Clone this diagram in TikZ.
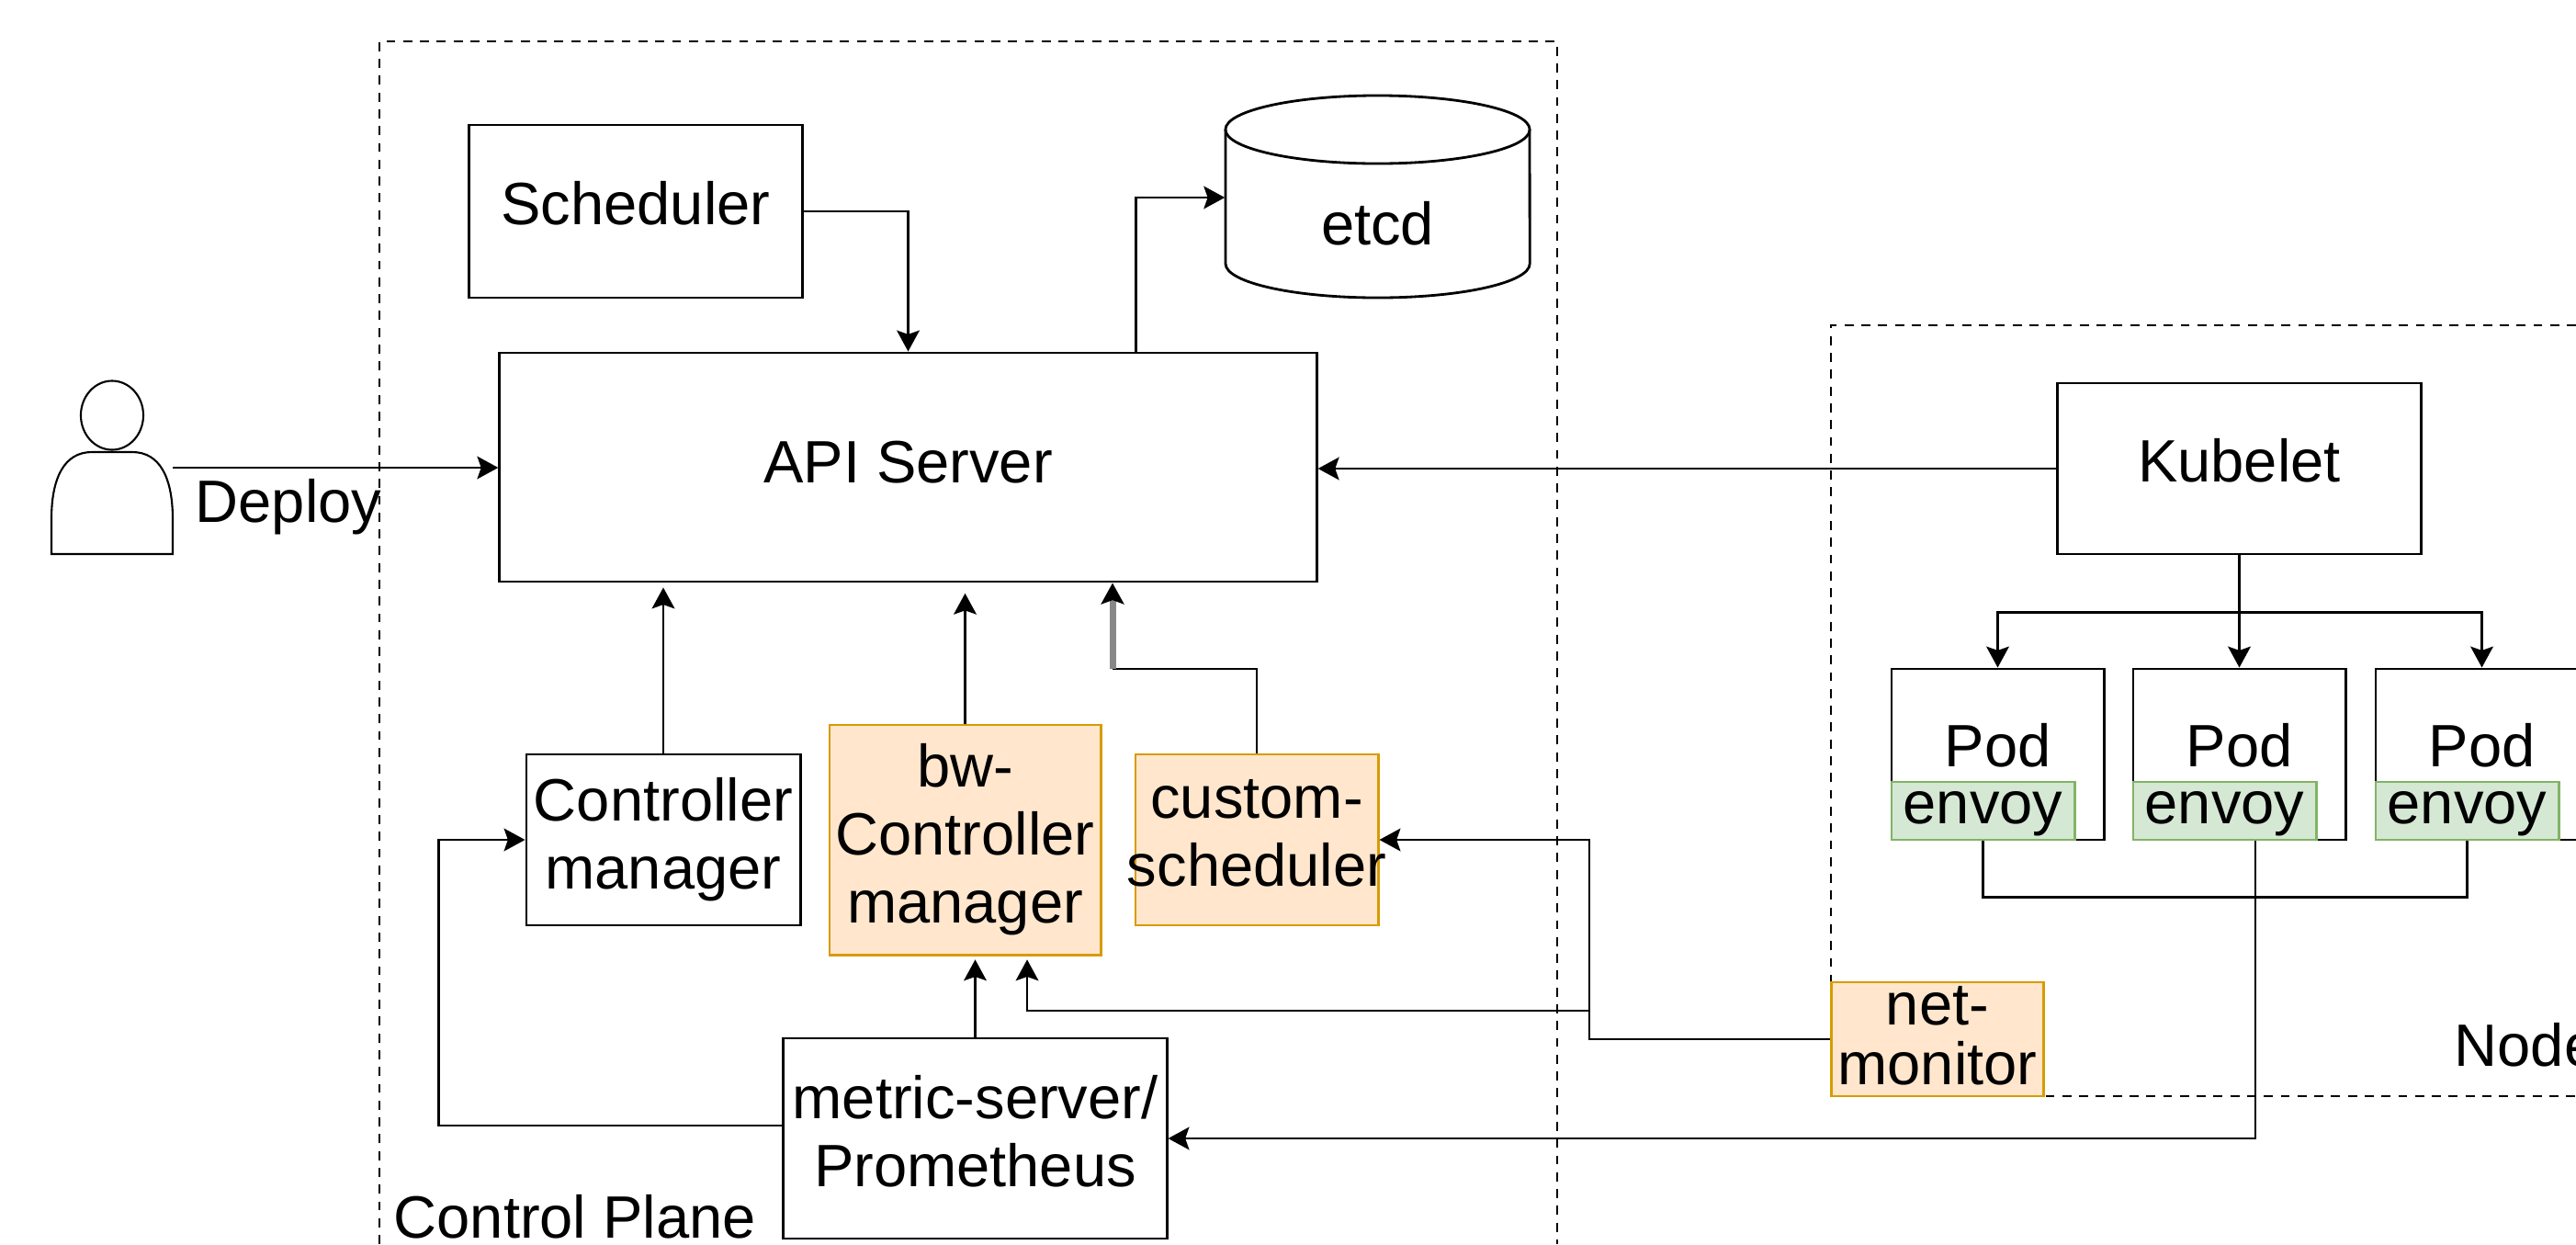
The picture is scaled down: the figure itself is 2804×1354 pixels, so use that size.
\documentclass[tikz,border=0pt]{standalone}
\usepackage{fontspec}
\setmainfont{Liberation Sans}
\usetikzlibrary{arrows.meta}
\definecolor{orangefill}{HTML}{FFE6CC}
\definecolor{orangeline}{HTML}{D79B00}
\definecolor{greenfill}{HTML}{D5E8D4}
\definecolor{greenline}{HTML}{82B366}
\definecolor{linkgray}{HTML}{888888}
\tikzset{
  every node/.style={font=\fontsize{18.5}{21}\selectfont, align=center, inner sep=0pt},
  box/.style={draw, fill=white, line width=0.8pt},
  orangebox/.style={draw=orangeline, fill=orangefill, line width=0.8pt},
  envoybox/.style={draw=greenline, fill=greenfill, line width=0.8pt, minimum width=1.99cm, minimum height=0.63cm},
  podbox/.style={box, minimum width=2.31cm, minimum height=1.86cm},
  link/.style={line width=0.8pt},
  arrow/.style={link, -{Stealth[length=6.5pt, width=7pt, inset=1.2pt, black]}},
  region/.style={line width=0.6pt, dash pattern=on 2.8pt off 2.4pt}
}

\begin{document}
\begin{tikzpicture}[x=0.01cm, y=-0.01cm]
    \useasboundingbox (0,0) rectangle (2804,1354);
    \clip (0,0) rectangle (2804,1354);

    \draw[region] (413,1354) -- (413,45) -- (1695,45) -- (1695,1354);
    \draw[region] (2804,354) -- (1993,354) -- (1993,1193) -- (2804,1193);

    \node (plane) [anchor=base west] at (428,1347) {Control Plane};
    \node (nodelabel) [anchor=base west] at (2671,1160) {Node};

    \draw[line width=0.6pt] (122,452) ellipse [x radius=0.34cm, y radius=0.375cm];
    \draw[line width=0.6pt] (56,603) -- (56,565) .. controls (56,520) and (70,492) .. (100,492) -- (144,492) .. controls (174,492) and (188,520) .. (188,565) -- (188,603) -- cycle;
    \coordinate (user) at (188,509);
    \node (deploy) [anchor=base west] at (212,568) {Deploy};

    \node [box, minimum width=3.62cm, minimum height=1.88cm, label={[name=schedtext, yshift=0.09cm]center:Scheduler}] (sched) at (692,230) {};
    \node [box, minimum width=8.89cm, minimum height=2.49cm, label={[name=apitext, yshift=0.05cm]center:API Server}] (api) at (988.5,508.5) {};

    \draw[line width=0.8pt] (1334,141) -- (1334,287) arc[start angle=180, end angle=360, x radius=1.655cm, y radius=0.37cm] -- (1665,141);
    \draw[line width=0.8pt] (1499.5,141) ellipse [x radius=1.655cm, y radius=0.37cm];
    \node [minimum width=3.31cm] (etcd) at (1499.5,243) {etcd};

    \node [box, minimum width=2.98cm, minimum height=1.86cm] (ctrl) at (722,914) {Controller\\manager};
    \node [orangebox, minimum width=2.95cm, minimum height=2.5cm] (bw) at (1050.5,914) {bw-\\Controller\\manager};
    \node [orangebox, minimum width=2.64cm, minimum height=1.86cm, label={[name=customtext, yshift=0.07cm]center:custom-\\scheduler}] (custom) at (1368,914) {};
    \node [box, minimum width=4.17cm, minimum height=2.18cm, label={[name=metrictext, yshift=0.08cm]center:metric-server/\\Prometheus}] (metric) at (1061.5,1239) {};

    \node [box, minimum width=3.96cm, minimum height=1.86cm, label={[name=kubelettext, yshift=0.09cm]center:Kubelet}] (kubelet) at (2437.5,510) {};
    \node [podbox, label={[name=podtext1, yshift=0.1cm]center:Pod}] (pod1) at (2174.5,821) {};
    \node [podbox, label={[name=podtext2, yshift=0.1cm]center:Pod}] (pod2) at (2437.5,821) {};
    \node [podbox, label={[name=podtext3, yshift=0.1cm]center:Pod}] (pod3) at (2701.5,821) {};
    \node [envoybox, label={[name=envoytext1, yshift=-0.035cm]center:envoy}] (envoy1) at (2158.5,882.5) {};
    \node [envoybox, label={[name=envoytext2, yshift=-0.035cm]center:envoy}] (envoy2) at (2421.5,882.5) {};
    \node [envoybox, label={[name=envoytext3, yshift=-0.035cm]center:envoy}] (envoy3) at (2685.5,882.5) {};
    \node [orangebox, minimum width=2.31cm, minimum height=1.24cm, label={[name=nettext, yshift=0.04cm]center:net-\\[-2.5pt]monitor}] (net) at (2109,1131) {};

    \draw[arrow] (user) -- (api.west |- user);
    \draw[arrow] (kubelet.west) -- (kubelet.west -| api.east);
    \draw[arrow] (sched.east) -| (api.north);
    \draw[arrow] ([xshift=2.475cm]api.north) |- ([yshift=0.28cm]etcd.west);
    \draw[arrow, shorten >=1.4pt] (ctrl.north) -- (ctrl.north |- api.south);
    \draw[arrow, shorten >=3.2pt] (bw.north) -- (bw.north |- api.south);
    \coordinate (customturn) at (1211,728);
    \draw[link] (custom.north) |- (customturn);
    \draw[arrow, draw=linkgray, line width=2pt] (customturn) -- (customturn |- api.south);
    \draw[arrow, shorten >=1.1pt] (metric.north) -- (metric.north |- bw.south);
    \draw[arrow] ([yshift=0.14cm]metric.west) -- ++(-374,0) |- (ctrl.west);
    \draw[arrow] (net.west) -- ++(-262,0) |- (custom.east);
    \coordinate (netjoin) at (1731,1100);
    \draw[arrow, shorten >=1.1pt] (netjoin) -| ([xshift=0.675cm]bw.south);
    \draw[arrow] ([xshift=0.335cm]envoy2.south) |- (metric.east);
    \draw[link] (envoy1.south) -- ++(0,61) -| (envoy3.south);
    \draw[arrow] (kubelet.south) -- (pod2.north);
    \draw[arrow] (kubelet.south) ++(0,62) -| (pod1.north);
    \draw[arrow] (kubelet.south) ++(0,62) -| (pod3.north);
\end{tikzpicture}
\end{document}
